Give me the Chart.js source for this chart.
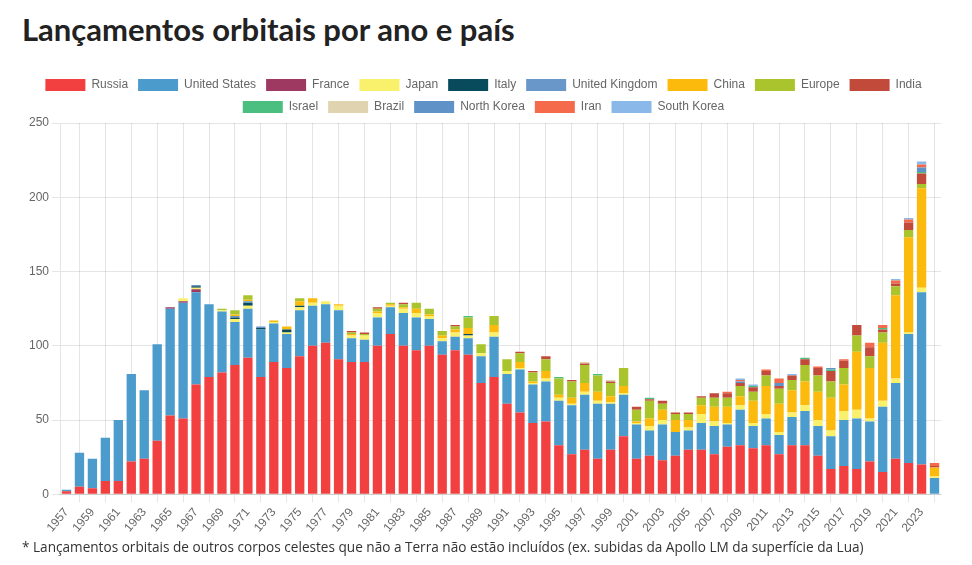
<!DOCTYPE html>
<html>
<head>
<meta charset="utf-8">
<script src="https://cdn.jsdelivr.net/npm/chart.js@4"></script>
<style>
  body { margin: 0; background: #fff; width: 972px; height: 565px; overflow: hidden; }
  h1 { position: absolute; left: 22px; top: 10px; margin: 0; font: 700 31px Lato, sans-serif; line-height: 38px; color: #222; }
  #wrap { position: absolute; left: 0; top: 69px; width: 972px; height: 469px; }
  .nota { position: absolute; left: 22px; top: 537px; margin: 0; font: 13.6px "Open Sans", sans-serif; color: #333; }
</style>
</head>
<body>
<h1>Lançamentos orbitais por ano e país</h1>
<div id="wrap"><canvas id="grafico"></canvas></div>
<p class="nota">* Lançamentos orbitais de outros corpos celestes que não a Terra não estão incluídos (ex. subidas da Apollo LM da superfície da Lua)</p>
<script>
// anos 1957 .. 2024
const anos = Array.from({ length: 68 }, (_, i) => String(1957 + i));

// lançamentos por país, um valor por ano (linhas de 10 anos: 1957-66, 67-76, ...)
const russia = [
  2, 5, 4, 9, 9, 22, 24, 36, 53, 51,
  74, 79, 82, 87, 92, 79, 89, 85, 93, 100,
  102, 91, 89, 89, 100, 108, 100, 97, 100, 94,
  97, 94, 75, 79, 61, 55, 48, 49, 33, 27,
  30, 24, 30, 39, 24, 26, 23, 26, 30, 30,
  27, 32, 33, 31, 33, 27, 33, 33, 26, 17,
  19, 17, 22, 15, 24, 21, 20, 0];
const usa = [
  1, 23, 20, 29, 41, 59, 46, 65, 72, 78,
  62, 49, 41, 29, 33, 32, 26, 23, 31, 27,
  26, 33, 16, 15, 19, 18, 22, 22, 18, 9,
  9, 11, 18, 27, 20, 29, 26, 27, 30, 33,
  37, 37, 31, 28, 23, 17, 24, 16, 13, 18,
  19, 15, 24, 15, 18, 13, 19, 23, 20, 22,
  31, 34, 27, 44, 51, 87, 116, 11];
const france = [
  0, 0, 0, 0, 0, 0, 0, 0, 1, 1,
  2, 0, 0, 0, 0, 0, 0, 0, 0, 0,
  0, 0, 0, 0, 0, 0, 0, 0, 0, 0,
  0, 0, 0, 0, 0, 0, 0, 0, 0, 0,
  0, 0, 0, 0, 0, 0, 0, 0, 0, 0,
  0, 0, 0, 0, 0, 0, 0, 0, 0, 0,
  0, 0, 0, 0, 0, 0, 0, 0];
const japan = [
  0, 0, 0, 0, 0, 0, 0, 0, 0, 2,
  1, 0, 1, 2, 2, 0, 1, 1, 2, 2,
  2, 3, 2, 3, 3, 1, 3, 3, 2, 2,
  3, 2, 2, 3, 2, 1, 1, 2, 2, 1,
  2, 2, 1, 1, 1, 3, 3, 0, 2, 6,
  3, 1, 3, 2, 3, 2, 3, 4, 4, 4,
  6, 6, 2, 4, 3, 1, 3, 1];
const italy = [
  0, 0, 0, 0, 0, 0, 0, 0, 0, 0,
  1, 0, 0, 1, 2, 1, 0, 2, 1, 0,
  0, 0, 0, 0, 0, 0, 0, 0, 0, 0,
  0, 1, 0, 0, 0, 0, 0, 0, 0, 0,
  0, 0, 0, 0, 0, 0, 0, 0, 0, 0,
  0, 0, 0, 0, 0, 0, 0, 0, 0, 0,
  0, 0, 0, 0, 0, 0, 0, 0];
const uk = [
  0, 0, 0, 0, 0, 0, 0, 0, 0, 0,
  1, 0, 0, 1, 1, 1, 0, 0, 0, 0,
  0, 0, 0, 0, 0, 0, 0, 0, 0, 0,
  0, 0, 0, 0, 0, 0, 0, 0, 0, 0,
  0, 0, 0, 0, 0, 0, 0, 0, 0, 0,
  0, 0, 0, 0, 0, 0, 0, 0, 0, 0,
  0, 0, 0, 0, 0, 0, 0, 0];
const china = [
  0, 0, 0, 0, 0, 0, 0, 0, 0, 0,
  0, 0, 0, 1, 1, 0, 1, 2, 3, 3,
  0, 1, 1, 0, 1, 1, 1, 3, 1, 2,
  2, 4, 0, 5, 0, 4, 1, 5, 2, 4,
  6, 6, 4, 5, 1, 5, 7, 8, 5, 6,
  10, 11, 6, 15, 19, 19, 15, 16, 19, 22,
  18, 39, 34, 39, 56, 64, 67, 6];
const europe = [
  0, 0, 0, 0, 0, 0, 0, 0, 0, 0,
  0, 0, 1, 3, 3, 0, 0, 0, 2, 0,
  0, 0, 1, 1, 2, 1, 2, 4, 4, 3,
  2, 7, 6, 6, 8, 6, 6, 8, 11, 11,
  12, 11, 9, 12, 8, 12, 4, 4, 4, 5,
  6, 6, 7, 6, 7, 10, 7, 11, 11, 11,
  11, 11, 8, 7, 6, 5, 3, 0];
const india = [
  0, 0, 0, 0, 0, 0, 0, 0, 0, 0,
  0, 0, 0, 0, 0, 0, 0, 0, 0, 0,
  0, 0, 1, 1, 1, 0, 1, 0, 0, 0,
  1, 0, 0, 0, 0, 1, 1, 2, 0, 1,
  1, 0, 1, 0, 2, 1, 2, 1, 1, 1,
  3, 3, 2, 3, 3, 2, 3, 4, 5, 7,
  5, 7, 6, 2, 2, 5, 7, 1];
const israel = [
  0, 0, 0, 0, 0, 0, 0, 0, 0, 0,
  0, 0, 0, 0, 0, 0, 0, 0, 0, 0,
  0, 0, 0, 0, 0, 0, 0, 0, 0, 0,
  0, 1, 0, 0, 0, 0, 0, 0, 1, 0,
  0, 1, 0, 0, 0, 1, 0, 0, 0, 0,
  0, 0, 0, 1, 0, 0, 0, 1, 0, 1,
  0, 0, 0, 1, 0, 0, 1, 0];
const brazil = [
  0, 0, 0, 0, 0, 0, 0, 0, 0, 0,
  0, 0, 0, 0, 0, 0, 0, 0, 0, 0,
  0, 0, 0, 0, 0, 0, 0, 0, 0, 0,
  0, 0, 0, 0, 0, 0, 0, 0, 0, 0,
  1, 0, 1, 0, 0, 0, 0, 0, 0, 0,
  0, 0, 0, 0, 0, 0, 0, 0, 0, 0,
  0, 0, 0, 0, 0, 0, 0, 0];
const northKorea = [
  0, 0, 0, 0, 0, 0, 0, 0, 0, 0,
  0, 0, 0, 0, 0, 0, 0, 0, 0, 0,
  0, 0, 0, 0, 0, 0, 0, 0, 0, 0,
  0, 0, 0, 0, 0, 0, 0, 0, 0, 0,
  0, 0, 0, 0, 0, 0, 0, 0, 0, 0,
  0, 0, 1, 0, 0, 2, 0, 0, 0, 1,
  0, 0, 0, 0, 0, 0, 3, 0];
const iran = [
  0, 0, 0, 0, 0, 0, 0, 0, 0, 0,
  0, 0, 0, 0, 0, 0, 0, 0, 0, 0,
  0, 0, 0, 0, 0, 0, 0, 0, 0, 0,
  0, 0, 0, 0, 0, 0, 0, 0, 0, 0,
  0, 0, 0, 0, 0, 0, 0, 0, 0, 0,
  0, 1, 1, 0, 1, 3, 0, 0, 1, 0,
  1, 0, 3, 2, 2, 2, 2, 2];
const southKorea = [
  0, 0, 0, 0, 0, 0, 0, 0, 0, 0,
  0, 0, 0, 0, 0, 0, 0, 0, 0, 0,
  0, 0, 0, 0, 0, 0, 0, 0, 0, 0,
  0, 0, 0, 0, 0, 0, 0, 0, 0, 0,
  0, 0, 0, 0, 0, 0, 0, 0, 0, 0,
  0, 0, 1, 1, 0, 0, 1, 0, 0, 0,
  0, 0, 0, 0, 1, 1, 2, 0];

const paises = ['Russia', 'United States', 'France', 'Japan', 'Italy', 'United Kingdom', 'China',
  'Europe', 'India', 'Israel', 'Brazil', 'North Korea', 'Iran', 'South Korea'];
const valores = [russia, usa, france, japan, italy, uk, china, europe, india, israel, brazil,
  northKorea, iran, southKorea];
const cores = ['#f23f3f', '#4b9ccc', '#9e3a62', '#f9f06b', '#074b5c', '#6a97c9', '#fbba0c',
  '#a9c42c', '#c24a3b', '#4bbf7f', '#e0d3b0', '#5f93c8', '#f46a4a', '#8ab8e8'];

const data = {
  labels: anos,
  datasets: paises.map((p, i) => ({
    label: p,
    data: valores[i],
    backgroundColor: cores[i],
    borderWidth: 0
  }))
};

const config = {
  type: 'bar',
  data,
  options: {
    responsive: true,
    maintainAspectRatio: false,
    animation: false,
    layout: { padding: { left: 26, right: 31 } },
    plugins: {
      legend: { labels: { boxWidth: 40, color: '#666', font: { size: 12 } } },
      tooltip: { enabled: false }
    },
    scales: {
      x: { stacked: true, ticks: { color: '#666' } },
      y: { stacked: true, min: 0, max: 250, ticks: { stepSize: 50, color: '#666' } }
    }
  }
};

new Chart(document.getElementById('grafico'), config);
</script>
</body>
</html>
